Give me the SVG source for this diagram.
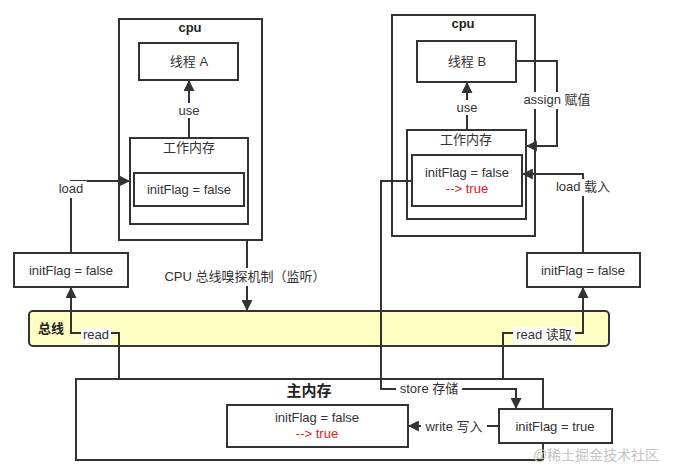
<svg xmlns="http://www.w3.org/2000/svg" width="674" height="474" viewBox="0 0 674 474">
<defs>
<marker id="arr" viewBox="0 0 10 10" refX="9" refY="5" markerWidth="5.5" markerHeight="5.5" markerUnits="strokeWidth" orient="auto">
<path d="M0,0 L10,5 L0,10 Z" fill="#333"/>
</marker>
</defs>
<style>
.box{fill:#fff;stroke:#333;stroke-width:2}
.t{font-family:"Liberation Sans","Noto Sans CJK SC",sans-serif;font-size:13px;fill:#333;text-anchor:middle}
.b{font-weight:bold;fill:#222}
.red{fill:#e0201a}
.ln{fill:none;stroke:#333;stroke-width:2}
.lbl{fill:#fff}
</style>
<rect width="674" height="474" fill="#fff"/>

<g id="cpuA">
<rect class="box" x="119" y="19" width="143" height="221"/>
<text class="t b" x="190" y="32">cpu</text>
</g>
<g id="threadA">
<rect class="box" x="139" y="43" width="99" height="37"/>
<text class="t" x="189" y="66">线程 A</text>
</g>
<g id="wmA">
<rect class="box" x="130" y="138" width="118" height="86"/>
<text class="t" x="189" y="152">工作内存</text>
</g>
<g id="flagA">
<rect class="box" x="134" y="173" width="110" height="33"/>
<text class="t" x="189" y="194">initFlag = false</text>
</g>

<g id="cpuB">
<rect class="box" x="392" y="15" width="143" height="221"/>
<text class="t b" x="463" y="28">cpu</text>
</g>
<g id="threadB">
<rect class="box" x="417" y="41" width="99" height="41"/>
<text class="t" x="467" y="66">线程 B</text>
</g>
<g id="wmB">
<rect class="box" x="407" y="130" width="119" height="89"/>
<text class="t" x="466" y="144">工作内存</text>
</g>
<g id="flagB">
<rect class="box" x="412" y="155" width="110" height="51"/>
<text class="t" x="467" y="177">initFlag = false</text>
<text class="t red" x="467" y="193">--&gt; true</text>
</g>

<g id="copyA">
<rect class="box" x="14" y="253" width="114" height="34"/>
<text class="t" x="71" y="275">initFlag = false</text>
</g>
<g id="copyB">
<rect class="box" x="527" y="253" width="113" height="34"/>
<text class="t" x="583" y="275">initFlag = false</text>
</g>

<g id="bus">
<rect x="29" y="311" width="580" height="35" rx="4" fill="#ffffc4" stroke="#333" stroke-width="2"/>
<text class="t b" x="51" y="333">总线</text>
</g>

<g id="mainMem">
<rect class="box" x="76" y="379" width="467" height="81"/>
<text class="t b" x="309" y="396" style="font-size:15px">主内存</text>
</g>
<g id="memFlag">
<rect class="box" x="227" y="405" width="181" height="42"/>
<text class="t" x="317" y="422">initFlag = false</text>
<text class="t red" x="317" y="438">--&gt; true</text>
</g>
<g id="trueFlag">
<rect class="box" x="499" y="409" width="113" height="34"/>
<text class="t" x="555" y="431">initFlag = true</text>
</g>

<g id="connectors">
<path class="ln" d="M189,138 V81" marker-end="url(#arr)"/>
<rect class="lbl" x="175" y="103" width="28" height="15"/>
<text class="t" x="189" y="115">use</text>

<path class="ln" d="M467,130 V83" marker-end="url(#arr)"/>
<rect class="lbl" x="453" y="100" width="28" height="15"/>
<text class="t" x="467" y="112">use</text>

<path class="ln" d="M71,253 V181 H129" marker-end="url(#arr)"/>
<rect class="lbl" x="55" y="181" width="32" height="17"/>
<text class="t" x="71" y="193">load</text>

<path class="ln" d="M516,61 H557 V146 H527" marker-end="url(#arr)"/>
<rect class="lbl" x="518" y="92" width="78" height="17"/>
<text class="t" x="557" y="104">assign 赋值</text>

<path class="ln" d="M583,253 V174 H523" marker-end="url(#arr)"/>
<rect class="lbl" x="551" y="179" width="64" height="17"/>
<text class="t" x="583" y="191">load 载入</text>

<path class="ln" d="M247,240 V310" marker-end="url(#arr)"/>
<rect class="lbl" x="166" y="268" width="160" height="18"/>
<text class="t" x="245" y="281">CPU 总线嗅探机制（监听）</text>

<path class="ln" d="M119,379 V333 H71 V288" marker-end="url(#arr)"/>
<rect class="lbl" x="81" y="328" width="30" height="15"/>
<text class="t" x="96" y="339">read</text>

<path class="ln" d="M503,379 V333 H583 V288" marker-end="url(#arr)"/>
<rect class="lbl" x="513" y="327" width="62" height="17"/>
<text class="t" x="544" y="339">read 读取</text>

<path class="ln" d="M412,181 H381 V389 H516 V408" marker-end="url(#arr)"/>
<rect class="lbl" x="396" y="381" width="66" height="17"/>
<text class="t" x="429" y="393">store 存储</text>

<path class="ln" d="M499,426 H409" marker-end="url(#arr)"/>
<rect class="lbl" x="421" y="419" width="66" height="17"/>
<text class="t" x="454" y="431">write 写入</text>
</g>

<text x="596" y="460" style="font-family:'Liberation Sans','Noto Sans CJK SC',sans-serif;font-size:14px;fill:#c4c4c4;text-anchor:middle">@稀土掘金技术社区</text>
</svg>
